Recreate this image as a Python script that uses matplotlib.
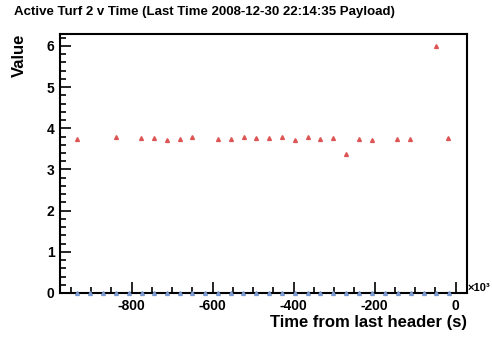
import matplotlib
matplotlib.use("Agg")
import matplotlib.pyplot as plt
from matplotlib.ticker import MultipleLocator

# Valores
t_red = [-935, -839, -777, -745, -713, -681, -651, -587, -555, -523, -493, -461,
         -429, -397, -365, -335, -303, -271, -239, -206, -145, -113, -48, -19]
v_red = [3.74, 3.79, 3.76, 3.76, 3.71, 3.74, 3.79, 3.74, 3.74, 3.79, 3.76, 3.76,
         3.79, 3.71, 3.79, 3.74, 3.76, 3.37, 3.74, 3.71, 3.74, 3.74, 6.0, 3.76]

t_blue = [-935, -903, -871, -839, -807, -775, -745, -713, -681, -651, -619, -587,
          -555, -525, -493, -461, -429, -397, -365, -335, -303, -271, -239, -206,
          -175, -142, -110, -78, -48, -17]
v_blue = [0] * len(t_blue)

plt.rcParams['font.family'] = ['Liberation Sans', 'DejaVu Sans']
plt.rcParams['font.weight'] = 'bold'
plt.rcParams['axes.unicode_minus'] = False

fig = plt.figure(figsize=(4.92, 3.44), dpi=100)
ax = fig.add_axes([60 / 492, 1 - 293 / 344, 407 / 492, 259 / 344])

ax.plot(t_blue, v_blue, linestyle='none', marker='^', markersize=2.8,
        color='#7b9bd0', clip_on=False, zorder=3)
ax.plot(t_red, v_red, linestyle='none', marker='^', markersize=2.8,
        color='#dd5555', zorder=3)

ax.set_xlim(-977, 28)
ax.set_ylim(0, 6.29)

ax.xaxis.set_major_locator(MultipleLocator(200))
ax.xaxis.set_minor_locator(MultipleLocator(50))
ax.yaxis.set_major_locator(MultipleLocator(1))
ax.yaxis.set_minor_locator(MultipleLocator(0.2))
ax.tick_params(which='both', direction='in', top=False, right=False,
               labelsize=10, width=1.2, color='black')
ax.tick_params(which='major', length=8, pad=4)
ax.tick_params(which='minor', length=4)
for lab in ax.get_xticklabels() + ax.get_yticklabels():
    lab.set_fontweight('bold')
for s in ax.spines.values():
    s.set_linewidth(1.5)

ax.set_xlabel("Time from last header (s)", fontsize=12, fontweight='bold',
              loc='right', labelpad=2)
ax.set_ylabel("Value", fontsize=12, fontweight='bold', loc='top', labelpad=14)

fig.text(14 / 492, 1 - 12 / 344, "Active Turf 2 v Time (Last Time 2008-12-30 22:14:35 Payload)",
         fontsize=9.5, fontweight='bold', va='center', ha='left')
fig.text(490 / 492, 1 - 288 / 344, "×10³", fontsize=8, fontweight='bold',
         va='center', ha='right')

fig.savefig("out.png", dpi=100, facecolor='white')
